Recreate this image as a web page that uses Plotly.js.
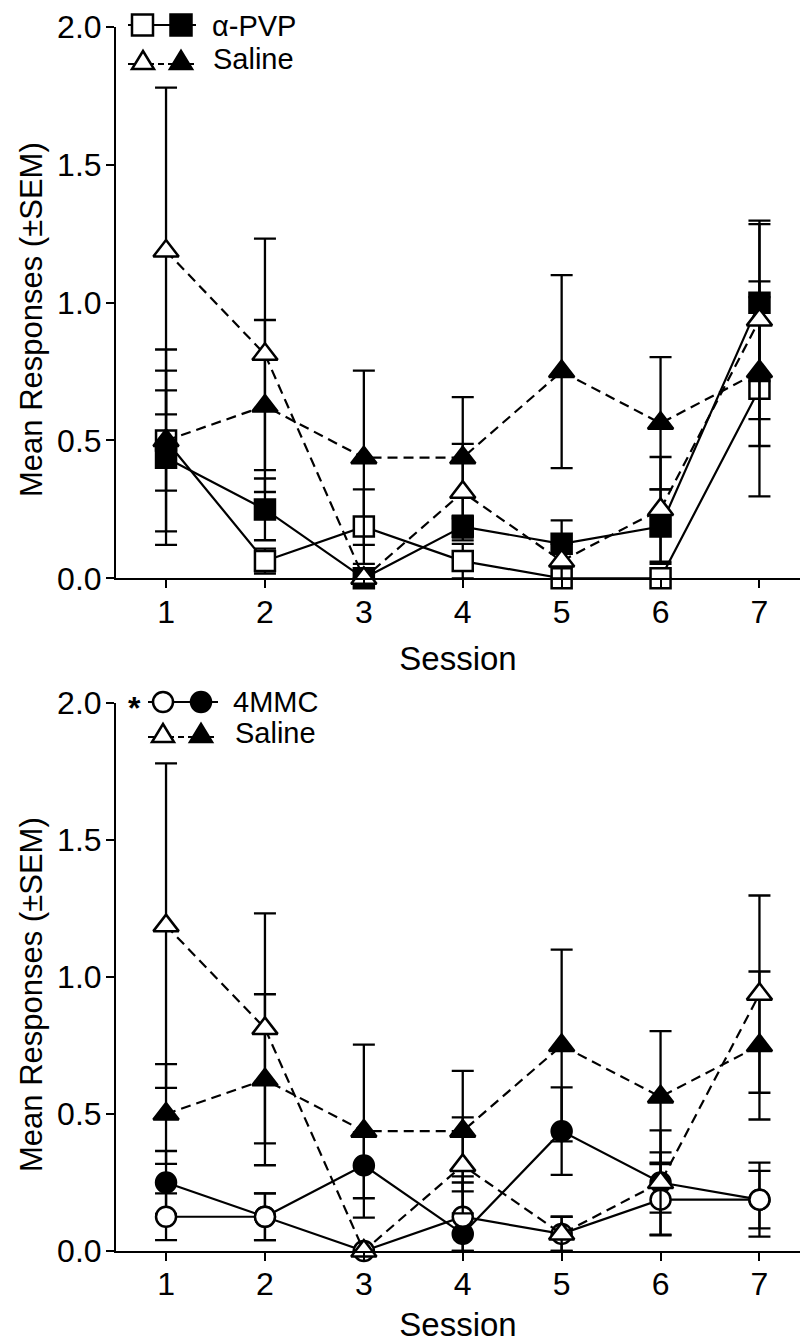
<!DOCTYPE html>
<html>
<head>
<meta charset="utf-8">
<script src="https://cdn.plot.ly/plotly-3.0.1.min.js"></script>
<style>html,body{margin:0;padding:0;background:#fff;}</style>
</head>
<body>
<div id="chart" style="width:800px;height:1343px;"></div>
<script>
// ---- data ----
const sessions = [1, 2, 3, 4, 5, 6, 7];
const yTickVals = [0, 0.5, 1.0, 1.5, 2.0];
const yTickText = ['0.0', '0.5', '1.0', '1.5', '2.0'];

// Top panel: alpha-PVP
const pvpOpen        = [0.5,   0.0625, 0.1875, 0.0625, 0,     0,      0.6875];
const pvpOpenSEM     = [0.33,  0.045,  0.135,  0.0625, 0,     0,      0.39];
const pvpFilled      = [0.4375,0.25,   0,      0.1875, 0.125, 0.1875, 1.0];
const pvpFilledSEM   = [0.316, 0.112,  0,      0.04,   0.085, 0.135,  0.285];

// Saline (same group shown in both panels)
const salineOpen      = [1.1875, 0.8125, 0,      0.3125, 0.0625, 0.25,   0.9375];
const salineOpenSEM   = [0.5925, 0.42,   0,      0.175,  0.0625, 0.19,   0.36];
const salineFilled    = [0.5,    0.625,  0.4375, 0.4375, 0.75,   0.5625, 0.75];
const salineFilledSEM = [0.182,  0.312,  0.316,  0.22,   0.35,   0.24,   0.27];

// Bottom panel: 4MMC
const mmcOpen       = [0.125, 0.125, 0,      0.125,  0.0625, 0.1875, 0.1875];
const mmcOpenSEM    = [0.085, 0.085, 0,      0.125,  0.0625, 0.13,   0.105];
const mmcFilled     = [0.25,  0.125, 0.3125, 0.0625, 0.4375, 0.25,   0.1875];
const mmcFilledSEM  = [0.115, 0.085, 0.12,   0.21,   0.16,   0.11,   0.135];

// ---- styling ----
const FONT = 'Liberation Sans, Arial, sans-serif';
const W = 800, H = 1343, ML = 116, MR = 0;
const PW = W - ML - MR;

function series(y, sem, symbol, filled, dashed, xa, ya) {
  return {
    x: sessions, y: y, type: 'scatter', mode: 'lines+markers',
    xaxis: xa, yaxis: ya, cliponaxis: false, showlegend: false, hoverinfo: 'skip',
    line: {color: '#000', width: 2.2, dash: dashed ? '10px,6px' : 'solid'},
    marker: {symbol: symbol, size: symbol.indexOf('triangle') === 0 ? 22 : 20,
             color: filled ? '#000' : '#fff', line: {color: '#000', width: 2.5}},
    error_y: {type: 'data', symmetric: false, array: sem,
              arrayminus: sem.map((s, i) => Math.min(s, y[i])),
              color: '#000', thickness: 2.3, width: 11}
  };
}

const data = [
  series(pvpOpen, pvpOpenSEM, 'square', false, false, 'x', 'y'),
  series(pvpFilled, pvpFilledSEM, 'square', true, false, 'x', 'y'),
  series(salineFilled, salineFilledSEM, 'triangle-up', true, true, 'x', 'y'),
  series(salineOpen, salineOpenSEM, 'triangle-up', false, true, 'x', 'y'),
  series(mmcFilled, mmcFilledSEM, 'circle', true, false, 'x2', 'y2'),
  series(mmcOpen, mmcOpenSEM, 'circle', false, false, 'x2', 'y2'),
  series(salineFilled, salineFilledSEM, 'triangle-up', true, true, 'x2', 'y2'),
  series(salineOpen, salineOpenSEM, 'triangle-up', false, true, 'x2', 'y2')
];

function xAxis(anchor) {
  return {
    anchor: anchor, domain: [0, 1], range: [0.494, 7.41],
    tickmode: 'array', tickvals: sessions, ticktext: sessions.map(String),
    ticks: 'outside', ticklen: 8, tickwidth: 2, tickcolor: '#000',
    ticklabelstandoff: -4,
    showline: true, linewidth: 2, linecolor: '#000',
    showgrid: false, zeroline: false,
    tickfont: {family: FONT, size: 32, color: '#000'},
    title: {text: 'Session', font: {family: FONT, size: 33, color: '#000'}, standoff: 18}
  };
}
function yAxis(anchor, domain) {
  return {
    anchor: anchor, domain: domain, range: [0, 2],
    tickmode: 'array', tickvals: yTickVals, ticktext: yTickText,
    ticks: 'outside', ticklen: 8, tickwidth: 2, tickcolor: '#000',
    ticklabelstandoff: -2,
    showline: true, linewidth: 2, linecolor: '#000',
    showgrid: false, zeroline: false,
    tickfont: {family: FONT, size: 32, color: '#000'}
  };
}

// ---- legend decorations & titles (pixel -> paper) ----
const px = v => (v - ML) / PW;
const py = v => 1 - v / H;
const shapes = [];
const annotations = [];
function legLine(x0, x1, y, dashed) {
  shapes.push({type: 'line', xref: 'paper', yref: 'paper', x0: px(x0), x1: px(x1), y0: py(y), y1: py(y),
               line: {color: '#000', width: 2.2, dash: dashed ? '6px,4px' : 'solid'}});
}
function legSquare(cx, cy, filled) {
  shapes.push({type: 'rect', xref: 'paper', yref: 'paper', x0: px(cx - 10.5), x1: px(cx + 10.5), y0: py(cy + 10.5), y1: py(cy - 10.5),
               fillcolor: filled ? '#000' : '#fff', line: {color: '#000', width: 2.5}});
}
function legCircle(cx, cy, filled) {
  shapes.push({type: 'circle', xref: 'paper', yref: 'paper', x0: px(cx - 10), x1: px(cx + 10), y0: py(cy + 10), y1: py(cy - 10),
               fillcolor: filled ? '#000' : '#fff', line: {color: '#000', width: 2.5}});
}
function legTri(cx, yTop, yBase, filled) {
  const hw = 11;
  const p = 'M' + px(cx - hw) + ',' + py(yBase) + ' L' + px(cx + hw) + ',' + py(yBase) +
            ' L' + px(cx) + ',' + py(yTop) + ' Z';
  shapes.push({type: 'path', xref: 'paper', yref: 'paper', path: p,
               fillcolor: filled ? '#000' : '#fff', line: {color: '#000', width: 2.5}});
}
function legText(x, y, text) {
  annotations.push({xref: 'paper', yref: 'paper', x: px(x), y: py(y), xanchor: 'left', yanchor: 'middle',
                    text: text, showarrow: false, font: {family: FONT, size: 29, color: '#000'}});
}
function yTitle(yc) {
  annotations.push({xref: 'paper', yref: 'paper', x: px(31), y: py(yc), xanchor: 'center', yanchor: 'middle',
                    textangle: -90, text: 'Mean Responses (±SEM)', showarrow: false,
                    font: {family: FONT, size: 31, color: '#000'}});
}

// top legend
legLine(128, 196, 25, false); legSquare(142.5, 25, false); legSquare(181, 25, true); legText(210, 26, 'α-PVP');
legLine(128, 196, 64, true);  legTri(143, 51, 69, false); legTri(181, 51, 69, true); legText(211, 59, 'Saline');
// bottom legend
annotations.push({xref: 'paper', yref: 'paper', x: px(134), y: py(708), xanchor: 'center', yanchor: 'middle',
                  text: '<b>*</b>', showarrow: false, font: {family: FONT, size: 32, color: '#000'}});
legLine(148, 218, 702, false); legCircle(163, 702, false); legCircle(201, 702, true); legText(231, 702, '4MMC');
legLine(148, 218, 737, true);  legTri(163, 724, 742, false); legTri(201, 724, 742, true); legText(233, 733, 'Saline');

yTitle(320);
yTitle(995);

const layout = {
  width: W, height: H, margin: {l: ML, r: MR, t: 0, b: 0, pad: 0},
  paper_bgcolor: '#fff', plot_bgcolor: '#fff', showlegend: false,
  font: {family: FONT, color: '#000'},
  xaxis: xAxis('y'),
  yaxis: yAxis('x', [1 - 578.3 / H, 1 - 27 / H]),
  xaxis2: xAxis('y2'),
  yaxis2: yAxis('x2', [1 - 1251 / H, 1 - 703 / H]),
  shapes: shapes, annotations: annotations
};

Plotly.newPlot('chart', data, layout, {displayModeBar: false, staticPlot: true});
</script>
</body>
</html>
